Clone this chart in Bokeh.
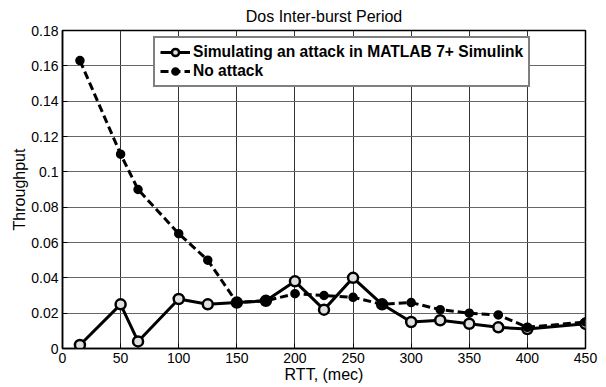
from bokeh.plotting import figure
from bokeh.models import Legend, LegendItem, FixedTicker
from bokeh.embed import file_html
from bokeh.resources import INLINE

rtt = [15, 50, 65, 100, 125, 150, 175, 200, 225, 250, 275, 300, 325, 350, 375, 400, 450]
attack = [0.002, 0.025, 0.004, 0.028, 0.025, 0.026, 0.027, 0.038, 0.022, 0.040, 0.025,
          0.015, 0.016, 0.014, 0.012, 0.011, 0.014]
no_attack = [0.163, 0.110, 0.090, 0.065, 0.050, 0.026, 0.027, 0.031, 0.030, 0.029, 0.025,
             0.026, 0.022, 0.020, 0.019, 0.012, 0.015]
x_ticks = [0, 50, 100, 150, 200, 250, 300, 350, 400, 450]
y_ticks = [0, 0.02, 0.04, 0.06, 0.08, 0.1, 0.12, 0.14, 0.16, 0.18]
y_tick_labels = ["0", "0.02", "0.04", "0.06", "0.08", "0.1", "0.12", "0.14", "0.16", "0.18"]

FONT = "Liberation Sans"

p = figure(width=606, height=387, output_backend="svg", toolbar_location=None,
           x_range=(0, 450), y_range=(0, 0.18),
           min_border_left=62, min_border_right=21, min_border_top=30, min_border_bottom=39,
           title="Dos Inter-burst Period")
p.title.align = "center"
p.title.text_font = FONT
p.title.text_font_style = "normal"
p.title.text_font_size = "16px"
p.title.text_color = "black"
p.title.standoff = 11
p.title.offset = 0

p.background_fill_color = "white"
p.border_fill_color = "white"
p.outline_line_color = "black"
p.outline_line_width = 1.5
p.outline_line_alpha = 1

for ax in (p.xaxis[0], p.yaxis[0]):
    ax.major_tick_in = 5
    ax.major_tick_out = 0
    ax.minor_tick_in = 0
    ax.minor_tick_out = 0
    ax.axis_line_color = "black"
    ax.axis_line_width = 1.5
    ax.major_tick_line_color = "black"
    ax.major_label_text_font = FONT
    ax.major_label_text_font_size = "14px"
    ax.major_label_text_color = "black"
    ax.axis_label_text_font = FONT
    ax.axis_label_text_font_style = "normal"
    ax.axis_label_text_font_size = "16px"
    ax.axis_label_text_color = "black"

p.xaxis.ticker = FixedTicker(ticks=x_ticks)
p.yaxis.ticker = FixedTicker(ticks=y_ticks)
p.yaxis.major_label_overrides = {t: l for t, l in zip(y_ticks, y_tick_labels)}
p.xaxis.axis_label = "RTT, (mec)"
p.yaxis.axis_label = "Throughput"
p.xaxis.major_label_standoff = 4
p.xaxis.axis_label_standoff = 0
p.yaxis.major_label_standoff = 4
p.yaxis.axis_label_standoff = 0

p.xgrid.ticker = FixedTicker(ticks=x_ticks)
p.ygrid.ticker = FixedTicker(ticks=y_ticks)
p.xgrid.grid_line_color = "#333333"
p.ygrid.grid_line_color = "#666666"
p.xgrid.grid_line_width = 1
p.ygrid.grid_line_width = 1

l1 = p.line(rtt, attack, line_color="black", line_width=3)
s1 = p.scatter(rtt, attack, marker="circle", size=10, line_color="black", line_width=2.5,
               fill_color="#e0e0e0")
l2 = p.line(rtt, no_attack, line_color="black", line_width=3, line_dash="8 4")
s2 = p.scatter(rtt, no_attack, marker="circle", size=8, line_color="black", line_width=1.5,
               fill_color="black")

legend = Legend(items=[
    LegendItem(label="Simulating an attack in MATLAB 7+ Simulink", renderers=[l1, s1]),
    LegendItem(label="No attack", renderers=[l2, s2]),
], location=(91, 261))
legend.label_text_font = FONT
legend.label_text_font_style = "bold"
legend.label_text_font_size = "15.6px"
legend.label_text_color = "black"
legend.border_line_color = "black"
legend.border_line_width = 2
legend.background_fill_alpha = 1
legend.glyph_width = 30
legend.glyph_height = 18
legend.label_height = 18
legend.spacing = 1
legend.padding = 5
legend.margin = 0
legend.label_standoff = 3
p.add_layout(legend, "center")

open("out.html", "w").write(file_html(p, INLINE))
